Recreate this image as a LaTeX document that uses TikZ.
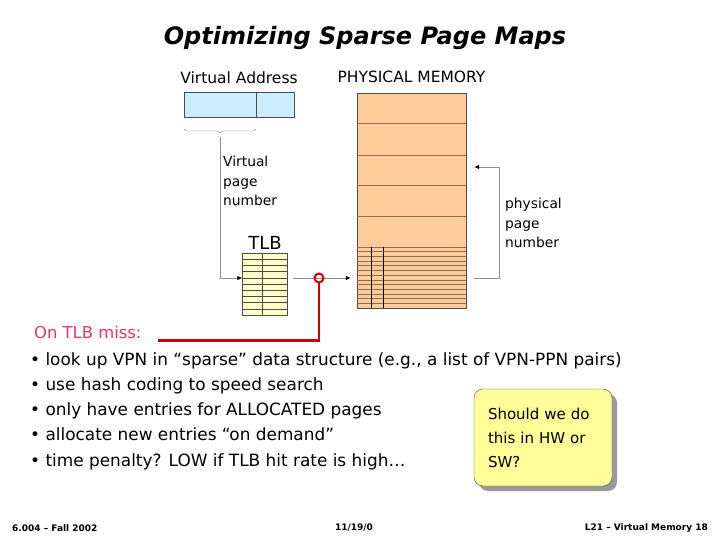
\documentclass[tikz,border=0pt]{standalone}
\usepackage{fontspec}
\setmainfont{DejaVu Sans}
\usetikzlibrary{positioning,arrows.meta,decorations.pathreplacing,shadows}

\definecolor{vablue}{HTML}{CCECFF}
\definecolor{memorange}{HTML}{FFCC99}
\definecolor{tlbyellow}{HTML}{FFFFCC}
\definecolor{noteyellow}{HTML}{FFFF99}
\definecolor{missred}{HTML}{CC0000}
\definecolor{misspink}{HTML}{EE3366}
\definecolor{rowline}{HTML}{8C6E50}

\tikzset{
  conn/.style={draw=black!45, line width=0.8pt, -{Latex[black,length=5pt,width=4.5pt]}},
  lbl/.style={font=\fontsize{13.8}{19.5}\selectfont, align=left, inner sep=0pt},
  bullet/.style={font=\fontsize{16.9}{20}\selectfont, anchor=west, inner sep=0pt,
    text height=12pt, text depth=4pt},
  foot/.style={font=\bfseries\fontsize{9}{11}\selectfont, inner sep=0pt},
  membox/.style={draw=black!70, inner sep=0pt},
}

\begin{document}
\begin{tikzpicture}[x=1pt, y=-1pt]
        \useasboundingbox[fill=white] (0,0) rectangle (720,540);
        \node (title) at (365,38) {\fontsize{24}{29}\selectfont\bfseries\itshape Optimizing Sparse Page Maps};

        % virtual address
        \node (va) [membox, fill=vablue, minimum width=110pt, minimum height=25pt] at (239,105) {};
        \draw[black!70] (256,92.5) -- (256,117.5);
        \node (valbl) [above=8pt of va, lbl, font=\fontsize{15.5}{18}\selectfont] {Virtual Address};
        \draw[black!45, decorate, decoration={brace, mirror, amplitude=4pt}] (184,129) -- (256,129);
        \coordinate (vpn) at (220,137);
        \node (vpnlbl) [lbl, anchor=north west] at (223,156) {Virtual\\page\\number};

        % physical memory
        \node (mem) [membox, fill=memorange, minimum width=109pt, minimum height=215pt] at (411.5,200.5) {};
        \node (memlbl) [above=10pt of mem, lbl, font=\fontsize{15.5}{18}\selectfont] {PHYSICAL MEMORY};
        \foreach \y in {123.3,155,185.3,216,246.7}
            \draw[rowline] (357,\y) -- (466,\y);
        \foreach \i in {1,...,12}
            \draw[rowline] (357,{246.7+\i*4.72}) -- (466,{246.7+\i*4.72});
        \draw (370.7,246.7) -- (370.7,308);
        \draw (383.3,246.7) -- (383.3,308);

        % TLB
        \node (tlb) [membox, fill=tlbyellow, minimum width=45pt, minimum height=62pt] at (265,284) {};
        \node (tlblbl) [above=3pt of tlb, font=\fontsize{18}{20}\selectfont, inner sep=0pt] {TLB};
        \foreach \i in {1,...,9}
            \draw[black!70] (242.5,{253+\i*6.2}) -- (287.5,{253+\i*6.2});
        \draw[black!70] (262.5,253) -- (262.5,315);

        \node (miss) [circle, minimum size=9pt, inner sep=0pt] at (319,278) {};
        \coordinate (ppn) at (499,167);
        \coordinate (missend) at (158,340.5);

        \draw[conn] (vpn) |- (tlb.west |- miss);
        \draw[black!45, line width=0.8pt, shorten <=5pt] (tlb.east |- miss) -- (miss.center);
        \draw[conn, shorten >=6pt] (miss.center) -- (mem.west |- miss);
        \draw[conn, shorten >=8pt] ([xshift=8pt]mem.east |- miss) -| (ppn) -- (mem.east |- ppn);
        \draw[missred, line width=2pt] (miss) circle (4.5pt);
        \draw[missred, line width=2.5pt] (miss.south) |- (missend);

        \node (ppnlbl) [lbl, anchor=north west] at (505,198) {physical\\page\\number};

        % text
        \node (onmiss) [bullet, text=misspink, font=\fontsize{16.4}{20}\selectfont] at (34,334) {On TLB miss:};
        \node (b1) [bullet] at (30,361) {• look up VPN in “sparse” data structure (e.g., a list of VPN-PPN pairs)};
        \node (b2) [below=25.3pt of b1.west, bullet] {• use hash coding to speed search};
        \node (b3) [below=25.3pt of b2.west, bullet] {• only have entries for ALLOCATED pages};
        \node (b4) [below=25.3pt of b3.west, bullet] {• allocate new entries “on demand”};
        \node (b5) [below=25.3pt of b4.west, bullet] {• time penalty? LOW if TLB hit rate is high…};

        \node (note) [draw=black!70, fill=noteyellow, rounded corners=9pt, minimum width=138pt,
            minimum height=97pt, inner xsep=14pt, text width=110pt, align=left,
            drop shadow={shadow xshift=5pt, shadow yshift=-5pt, fill=black!40, opacity=1},
            font=\fontsize{15}{24}\selectfont] at (543,437.5) {Should we do\\this in HW or\\SW?};

        % footer
        \node (f1) [foot, anchor=west] at (12,528) {6.004 – Fall 2002};
        \node (f2) [foot] at (354,528) {11/19/0};
        \node (f3) [foot, anchor=east] at (708,528) {L21 – Virtual Memory 18};
\end{tikzpicture}
\end{document}
